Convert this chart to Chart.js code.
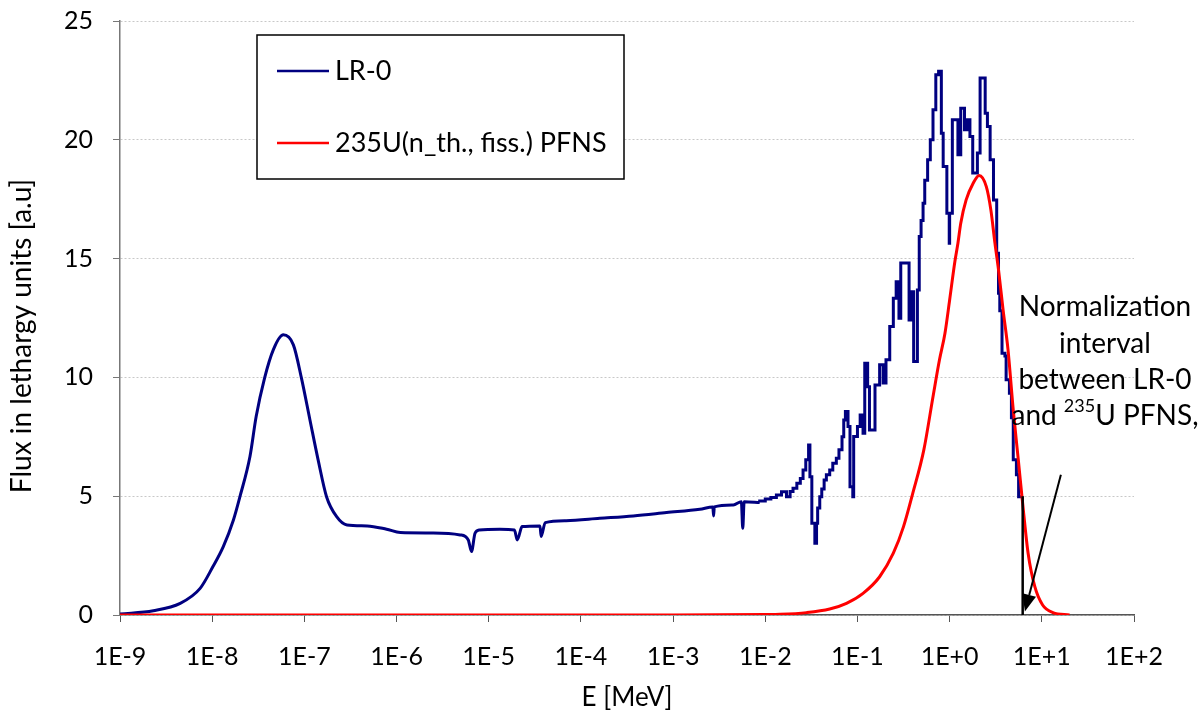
<!DOCTYPE html>
<html lang="en">
<head>
<meta charset="UTF-8">
<title>LR-0 spectrum vs 235U PFNS</title>
<script src="https://cdn.jsdelivr.net/npm/chart.js"></script>
<style>
  body { margin: 0; background: #fff; }
  #wrap { width: 1200px; height: 713px; }
</style>
</head>
<body>
<div id="wrap"><canvas id="chart" width="1200" height="713"></canvas></div>
<script>
// energy in MeV, flux per lethargy [a.u.]
// LR-0, thermal + epithermal part (smooth)
const lr0LowEnergy = [
  1e-9, 2.3e-9, 4.5e-9, 7.4e-9, 1.02e-8, 1.32e-8, 1.7e-8, 2.0e-8, 2.57e-8, 3.0e-8,
  3.7e-8, 4.6e-8, 5.9e-8, 7.6e-8, 9.3e-8, 1.15e-7, 1.41e-7, 1.74e-7, 2.24e-7, 2.9e-7,
  4.8e-7, 7.8e-7, 1.1e-6, 2.5e-6, 4.9e-6, 6.0e-6, 6.5e-6, 7.1e-6, 7.9e-6, 1.32e-5,
  1.9e-5, 2.04e-5, 2.3e-5, 3.6e-5, 3.7e-5, 4.1e-5, 6.9e-5, 1.6e-4, 3.7e-4, 8.5e-4,
  1.95e-3, 2.7e-3, 2.75e-3, 2.8e-3, 4.5e-3, 5.5e-3, 5.7e-3, 5.9e-3, 8.7e-3
];
const lr0LowFlux = [
  0.04, 0.18, 0.49, 1.12, 2.04, 2.88, 4.0, 4.98, 6.67, 8.35,
  9.97, 11.16, 11.79, 11.37, 9.97, 8.21, 6.53, 4.98, 4.14, 3.79,
  3.75, 3.61, 3.47, 3.45, 3.37, 3.16, 2.67, 3.44, 3.58, 3.61,
  3.58, 3.16, 3.72, 3.75, 3.30, 3.89, 3.97, 4.07, 4.17, 4.31,
  4.45, 4.55, 4.17, 4.55, 4.63, 4.77, 3.65, 4.77, 4.73
];
// LR-0, resonance + fast part (group histogram)
const lr0HighEnergy = [
  8.7e-3, 1.0e-2, 1.15e-2, 1.32e-2, 1.5e-2, 1.7e-2, 1.86e-2, 2.0e-2, 2.2e-2, 2.4e-2,
  2.57e-2, 2.75e-2, 2.95e-2, 3.05e-2, 3.2e-2, 3.45e-2, 3.6e-2, 3.7e-2, 3.9e-2, 4.1e-2,
  4.35e-2, 4.6e-2, 5.0e-2, 5.4e-2, 5.9e-2, 6.3e-2, 6.8e-2, 7.1e-2, 7.4e-2, 7.9e-2,
  8.3e-2, 8.9e-2, 9.1e-2, 0.1, 0.107, 0.115, 0.12, 0.129, 0.135, 0.155,
  0.174, 0.19, 0.204, 0.224, 0.245, 0.263, 0.282, 0.295, 0.324, 0.363,
  0.38, 0.407, 0.447, 0.468, 0.49, 0.515, 0.537, 0.577, 0.617, 0.66,
  0.708, 0.759, 0.813, 0.851, 0.933, 0.99, 1.0, 1.07, 1.23, 1.32,
  1.45, 1.55, 1.66, 1.78, 2.0, 2.14, 2.43, 2.57, 2.75, 2.99,
  3.24, 3.39, 3.5, 3.7, 3.98, 4.1, 4.45, 4.68, 4.9, 5.3,
  5.6, 6.0
];
const lr0HighFlux = [
  4.73, 4.8, 4.88, 4.95, 5.05, 5.19, 4.98, 5.2, 5.33, 5.55,
  5.75, 6.1, 6.53, 7.16, 5.82, 3.86, 3.02, 3.86, 4.5, 4.98,
  5.3, 5.68, 5.9, 6.1, 6.39, 6.6, 6.95, 7.5, 8.21, 8.56,
  7.93, 5.40, 4.98, 7.51, 7.93, 8.42, 7.65, 10.6, 9.61, 7.79,
  9.68, 10.53, 9.76, 10.74, 12.14, 13.33, 14.03, 12.49, 14.81, 14.81,
  12.42, 13.61, 10.67, 13.68, 15.93, 16.6, 17.33, 18.3, 19.16, 20.0,
  21.26, 22.74, 22.88, 20.28, 18.88, 16.91, 15.65, 16.91, 20.84, 19.37,
  21.33, 20.42, 20.84, 20.14, 18.6, 19.44, 22.6, 21.12, 20.56, 19.16,
  17.47, 15.23, 13.54, 12.8, 11.02, 10.9, 9.9, 9.33, 8.3, 6.53,
  5.9, 4.98
];

const pfnsEnergy = [
  1e-9, 1e-6, 1e-3, 1e-2, 1.45e-2, 2.8e-2, 5e-2, 7.6e-2, 0.115, 0.174,
  0.245, 0.316, 0.398, 0.525, 0.66, 0.776, 0.89, 1.0, 1.14, 1.23,
  1.32, 1.51, 1.8, 2.09, 2.5, 2.8, 3.1, 3.39, 3.8, 4.3,
  4.9, 5.56, 6.3, 7.1, 8.4, 10.2, 13.2, 20
];
const pfnsFlux = [
  0, 0, 0.003, 0.02, 0.03, 0.10, 0.25, 0.49, 0.91, 1.61,
  2.60, 3.72, 5.12, 6.95, 9.19, 10.74, 11.86, 13.26, 14.88, 15.65,
  16.49, 17.47, 18.17, 18.5, 18.03, 17.05, 15.65, 14.53, 12.84, 11.16,
  8.63, 6.53, 4.42, 2.60, 1.19, 0.42, 0.10, 0.0
];

// black marker at the upper end of the normalization interval
const normLineEnergy = [6.2, 6.2];
const normLineFlux = [0, 5];

const xTickValues = [1e-9, 1e-8, 1e-7, 1e-6, 1e-5, 1e-4, 1e-3, 1e-2, 1e-1, 1, 10, 100];
const xTickLabels = ['1E-9', '1E-8', '1E-7', '1E-6', '1E-5', '1E-4', '1E-3', '1E-2', '1E-1', '1E+0', '1E+1', '1E+2'];

const seriesLabels = ['LR-0', '235U(n_th., fiss.) PFNS'];
const seriesColors = ['#000080', '#ff0000'];
const FONT = 'Lato, "Open Sans", sans-serif';

function pairs(xs, ys) {
    return xs.map((x, i) => ({ x: x, y: ys[i] }));
}

// legend box, y title, annotation text and arrow
const extras = {
    id: 'extras',
    afterDraw(chart) {
        const ctx = chart.ctx;
        const xs = chart.scales.x, ys = chart.scales.y;
        ctx.save();

        // y axis title
        ctx.save();
        ctx.translate(22, 336);
        ctx.rotate(-Math.PI / 2);
        ctx.font = '28px ' + FONT;
        ctx.fillStyle = '#000';
        ctx.textAlign = 'center';
        ctx.textBaseline = 'middle';
        ctx.fillText('Flux in lethargy units [a.u]', 0, 0);
        ctx.restore();

        // legend
        ctx.fillStyle = '#fff';
        ctx.fillRect(257, 35, 367, 144);
        ctx.strokeStyle = '#000';
        ctx.lineWidth = 1.5;
        ctx.strokeRect(257, 35, 367, 144);
        ctx.font = '27px ' + FONT;
        ctx.textBaseline = 'middle';
        ctx.textAlign = 'left';
        [71, 143].forEach((y, i) => {
            ctx.strokeStyle = seriesColors[i];
            ctx.lineWidth = 2.5;
            ctx.beginPath();
            ctx.moveTo(277, y);
            ctx.lineTo(329, y);
            ctx.stroke();
            ctx.fillStyle = '#000';
            ctx.fillText(seriesLabels[i], 335, y);
        });

        // annotation
        const cx = 1105;
        const big = '28px ' + FONT, small = '18px ' + FONT;
        ctx.font = big;
        ctx.textAlign = 'center';
        ctx.fillText('Normalization', cx, 307);
        ctx.fillText('interval', cx, 344);
        ctx.fillText('between LR-0', cx, 380);
        const p1 = 'and ', p2 = '235', p3 = 'U PFNS,';
        const w1 = ctx.measureText(p1).width, w3 = ctx.measureText(p3).width;
        ctx.font = small;
        const w2 = ctx.measureText(p2).width;
        let x = cx - (w1 + w2 + w3) / 2;
        ctx.textAlign = 'left';
        ctx.font = big;
        ctx.fillText(p1, x, 416);
        x += w1;
        ctx.font = small;
        ctx.fillText(p2, x, 406);
        x += w2;
        ctx.font = big;
        ctx.fillText(p3, x, 416);

        // arrow
        const x0 = xs.getPixelForValue(16.1), y0 = ys.getPixelForValue(5.9);
        const x1 = xs.getPixelForValue(6.55), y1 = ys.getPixelForValue(0.15);
        const ang = Math.atan2(y1 - y0, x1 - x0);
        const hl = 17, hw = 7;
        const bx = x1 - hl * Math.cos(ang), by = y1 - hl * Math.sin(ang);
        ctx.strokeStyle = '#000';
        ctx.lineWidth = 2;
        ctx.beginPath();
        ctx.moveTo(x0, y0);
        ctx.lineTo(bx, by);
        ctx.stroke();
        ctx.fillStyle = '#000';
        ctx.beginPath();
        ctx.moveTo(x1, y1);
        ctx.lineTo(bx + hw * Math.sin(ang), by - hw * Math.cos(ang));
        ctx.lineTo(bx - hw * Math.sin(ang), by + hw * Math.cos(ang));
        ctx.closePath();
        ctx.fill();
        ctx.restore();
    }
};

new Chart(document.getElementById('chart'), {
    type: 'line',
    data: {
        datasets: [
            {
                label: seriesLabels[0],
                data: pairs(lr0LowEnergy, lr0LowFlux),
                borderColor: seriesColors[0],
                borderWidth: 3,
                cubicInterpolationMode: 'monotone',
                order: 3
            },
            {
                label: seriesLabels[0] + ' fast',
                data: pairs(lr0HighEnergy, lr0HighFlux),
                borderColor: seriesColors[0],
                borderWidth: 3,
                stepped: 'after',
                order: 2
            },
            {
                label: seriesLabels[1],
                data: pairs(pfnsEnergy, pfnsFlux),
                borderColor: seriesColors[1],
                borderWidth: 3,
                cubicInterpolationMode: 'monotone',
                order: 1
            },
            {
                label: 'norm',
                data: pairs(normLineEnergy, normLineFlux),
                borderColor: '#000',
                borderWidth: 2.5,
                order: 0
            }
        ]
    },
    options: {
        responsive: false,
        animation: false,
        elements: { point: { radius: 0 }, line: { tension: 0, fill: false } },
        layout: { padding: { top: 21, right: 66, left: 0, bottom: 0 } },
        plugins: { legend: { display: false }, tooltip: { enabled: false } },
        scales: {
            x: {
                type: 'logarithmic',
                min: 1e-9,
                max: 100,
                afterBuildTicks: (s) => { s.ticks = xTickValues.map(v => ({ value: v })); },
                afterFit: (s) => { s.height = 98; },
                ticks: {
                    autoSkip: false,
                    maxRotation: 0,
                    padding: 20,
                    color: '#000',
                    font: { family: FONT, size: 25 },
                    callback: (v, i) => xTickLabels[i]
                },
                grid: { drawOnChartArea: false, tickLength: 7, tickColor: '#555' },
                border: { color: '#555', width: 1.5 },
                title: {
                    display: true,
                    text: 'E [MeV]',
                    color: '#000',
                    font: { family: FONT, size: 26 },
                    padding: { top: 0, bottom: 0 }
                }
            },
            y: {
                min: 0,
                max: 25,
                afterFit: (s) => { s.width = 120; s.paddingTop = 0; s.paddingBottom = 0; },
                ticks: {
                    stepSize: 5,
                    padding: 20,
                    color: '#000',
                    font: { family: FONT, size: 25 }
                },
                grid: { color: '#c8c8c8', tickColor: '#777', tickLength: 7, tickBorderDash: [] },
                border: { color: '#777', width: 1.5, dash: [2, 2] },
                title: { display: false }
            }
        }
    },
    plugins: [extras]
});
</script>
</body>
</html>
